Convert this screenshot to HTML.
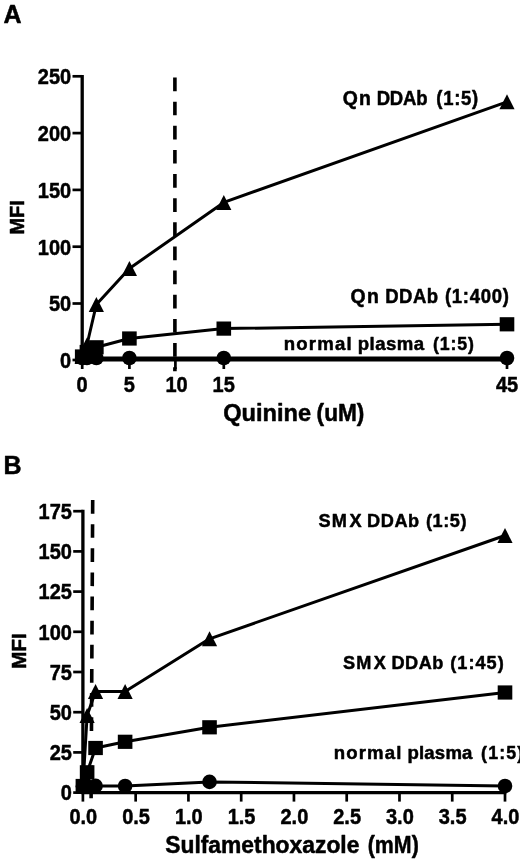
<!DOCTYPE html>
<html lang="en">
<head>
<meta charset="utf-8">
<title>Figure</title>
<style>
html,body{margin:0;padding:0;background:#fff;}
body{width:520px;height:867px;overflow:hidden;}
svg{display:block;}
svg text{font-family:"Liberation Sans", Arial, Helvetica, sans-serif;font-weight:700;fill:#000;stroke:#000;stroke-width:0.5;stroke-linejoin:round;}
.ax{stroke:#000;stroke-width:3.3;fill:none;stroke-linecap:butt;}
.tk{stroke:#000;stroke-width:2.7;fill:none;stroke-linecap:butt;}
.ln{stroke:#000;stroke-width:3.0;fill:none;stroke-linejoin:round;}
.dash{stroke:#000;stroke-width:3.6;fill:none;stroke-dasharray:13.7 10.44;}
</style>
</head>
<body>
<svg width="520" height="867" viewBox="0 0 520 867">
<rect x="0" y="0" width="520" height="867" fill="#fff" stroke="none"/>
<g id="panelA">
<text x="3.4" y="23.4" font-size="25" text-anchor="start">A</text>
<path class="ax" d="M82.2,74.95 V359.8 M80.55,359.8 H508.35"/>
<path class="tk" d="M72.5,360.00 H82.2"/>
<text transform="translate(71.20,367.80) scale(0.926,1)" font-size="21.6" text-anchor="end">0</text>
<path class="tk" d="M72.5,303.50 H82.2"/>
<text transform="translate(71.20,311.30) scale(0.926,1)" font-size="21.6" text-anchor="end">50</text>
<path class="tk" d="M72.5,246.70 H82.2"/>
<text transform="translate(71.20,254.50) scale(0.926,1)" font-size="21.6" text-anchor="end">100</text>
<path class="tk" d="M72.5,189.90 H82.2"/>
<text transform="translate(71.20,197.70) scale(0.926,1)" font-size="21.6" text-anchor="end">150</text>
<path class="tk" d="M72.5,133.10 H82.2"/>
<text transform="translate(71.20,140.90) scale(0.926,1)" font-size="21.6" text-anchor="end">200</text>
<path class="tk" d="M72.5,76.30 H82.2"/>
<text transform="translate(71.20,84.10) scale(0.926,1)" font-size="21.6" text-anchor="end">250</text>
<path class="tk" d="M82.20,359.8 V369.0"/>
<text transform="translate(82.10,392.40) scale(0.926,1)" font-size="21.6" text-anchor="middle">0</text>
<path class="tk" d="M129.40,359.8 V369.0"/>
<text transform="translate(129.30,392.40) scale(0.926,1)" font-size="21.6" text-anchor="middle">5</text>
<path class="tk" d="M175.40,359.8 V369.0"/>
<text transform="translate(176.50,392.40) scale(0.926,1)" font-size="21.6" text-anchor="middle">10</text>
<path class="tk" d="M223.80,359.8 V369.0"/>
<text transform="translate(223.70,392.40) scale(0.926,1)" font-size="21.6" text-anchor="middle">15</text>
<path class="tk" d="M507.00,359.8 V369.0"/>
<text transform="translate(507.00,392.40) scale(0.926,1)" font-size="21.6" text-anchor="middle">45</text>
<text transform="translate(24.4,217.4) rotate(-90)" font-size="20" text-anchor="middle">MFI</text>
<text transform="translate(223.22,420.7)" font-size="23.6">Quinine</text>
<text transform="translate(316.62,420.7) scale(0.9602,1)" font-size="23.6">(uM)</text>
<path class="dash" d="M174.9,77.5 V371.3"/>
<polyline class="ln" points="82.20,358.00 86.92,358.00 96.36,358.00 129.40,358.00 223.80,358.00 507.00,358.00"/>
<circle cx="82.20" cy="358.00" r="7.3"/>
<circle cx="86.92" cy="358.00" r="7.3"/>
<circle cx="96.36" cy="358.00" r="7.3"/>
<circle cx="129.40" cy="358.00" r="7.3"/>
<circle cx="223.80" cy="358.00" r="7.3"/>
<circle cx="507.00" cy="358.00" r="7.3"/>
<polyline class="ln" points="82.20,356.50 86.92,352.00 96.36,347.30 129.40,338.50 223.80,328.60 507.00,324.30"/>
<rect x="74.90" y="349.40" width="14.6" height="14.2"/>
<rect x="79.62" y="344.90" width="14.6" height="14.2"/>
<rect x="89.06" y="340.20" width="14.6" height="14.2"/>
<rect x="122.10" y="331.40" width="14.6" height="14.2"/>
<rect x="216.50" y="321.50" width="14.6" height="14.2"/>
<rect x="499.70" y="317.20" width="14.6" height="14.2"/>
<polyline class="ln" points="82.20,356.40 86.92,345.00 96.36,304.50 129.40,268.50 223.80,202.40 507.00,101.80"/>
<polygon points="82.20,348.90 89.80,363.90 74.60,363.90"/>
<polygon points="86.92,337.50 94.52,352.50 79.32,352.50"/>
<polygon points="96.36,297.00 103.96,312.00 88.76,312.00"/>
<polygon points="129.40,261.00 137.00,276.00 121.80,276.00"/>
<polygon points="223.80,194.90 231.40,209.90 216.20,209.90"/>
<polygon points="507.00,94.30 514.60,109.30 499.40,109.30"/>
<text transform="translate(342.66,104.9)" font-size="19.4" letter-spacing="1.200">Qn</text>
<text transform="translate(376.63,104.9) scale(0.9550,1)" font-size="19.4" letter-spacing="-0.208">DDAb</text>
<text transform="translate(436.32,104.9) scale(0.9550,1)" font-size="19.4" letter-spacing="0.737">(1:5)</text>
<text transform="translate(350.61,303.4)" font-size="19.4" letter-spacing="1.200">Qn</text>
<text transform="translate(385.23,303.4) scale(0.9550,1)" font-size="19.4" letter-spacing="0.525">DDAb</text>
<text transform="translate(444.92,303.4) scale(0.9550,1)" font-size="19.4" letter-spacing="0.739">(1:400)</text>
<text transform="translate(283.64,350.1)" font-size="18.6" letter-spacing="1.200">normal</text>
<text transform="translate(357.69,350.1)" font-size="18.6" letter-spacing="0.476">plasma</text>
<text transform="translate(432.88,350.1) scale(0.9550,1)" font-size="18.6" letter-spacing="0.929">(1:5)</text>
</g>
<g id="panelB">
<text x="3.6" y="473.7" font-size="25" text-anchor="start">B</text>
<path class="ax" d="M82.9,509.84999999999997 V792.6 M81.25,792.6 H506.35"/>
<path class="tk" d="M73.2,792.60 H82.9"/>
<text transform="translate(71.90,800.40) scale(0.926,1)" font-size="21.6" text-anchor="end">0</text>
<path class="tk" d="M73.2,752.40 H82.9"/>
<text transform="translate(71.90,760.20) scale(0.926,1)" font-size="21.6" text-anchor="end">25</text>
<path class="tk" d="M73.2,712.20 H82.9"/>
<text transform="translate(71.90,720.00) scale(0.926,1)" font-size="21.6" text-anchor="end">50</text>
<path class="tk" d="M73.2,672.00 H82.9"/>
<text transform="translate(71.90,679.80) scale(0.926,1)" font-size="21.6" text-anchor="end">75</text>
<path class="tk" d="M73.2,631.80 H82.9"/>
<text transform="translate(71.90,639.60) scale(0.926,1)" font-size="21.6" text-anchor="end">100</text>
<path class="tk" d="M73.2,591.60 H82.9"/>
<text transform="translate(71.90,599.40) scale(0.926,1)" font-size="21.6" text-anchor="end">125</text>
<path class="tk" d="M73.2,551.40 H82.9"/>
<text transform="translate(71.90,559.20) scale(0.926,1)" font-size="21.6" text-anchor="end">150</text>
<path class="tk" d="M73.2,511.20 H82.9"/>
<text transform="translate(71.90,519.00) scale(0.926,1)" font-size="21.6" text-anchor="end">175</text>
<path class="tk" d="M82.90,792.6 V801.6"/>
<text transform="translate(83.30,823.60) scale(0.926,1)" font-size="21.6" text-anchor="middle">0.0</text>
<path class="tk" d="M135.66,792.6 V801.6"/>
<text transform="translate(136.06,823.60) scale(0.926,1)" font-size="21.6" text-anchor="middle">0.5</text>
<path class="tk" d="M188.43,792.6 V801.6"/>
<text transform="translate(188.83,823.60) scale(0.926,1)" font-size="21.6" text-anchor="middle">1.0</text>
<path class="tk" d="M241.19,792.6 V801.6"/>
<text transform="translate(241.59,823.60) scale(0.926,1)" font-size="21.6" text-anchor="middle">1.5</text>
<path class="tk" d="M293.95,792.6 V801.6"/>
<text transform="translate(294.35,823.60) scale(0.926,1)" font-size="21.6" text-anchor="middle">2.0</text>
<path class="tk" d="M346.71,792.6 V801.6"/>
<text transform="translate(347.11,823.60) scale(0.926,1)" font-size="21.6" text-anchor="middle">2.5</text>
<path class="tk" d="M399.48,792.6 V801.6"/>
<text transform="translate(399.88,823.60) scale(0.926,1)" font-size="21.6" text-anchor="middle">3.0</text>
<path class="tk" d="M452.24,792.6 V801.6"/>
<text transform="translate(452.64,823.60) scale(0.926,1)" font-size="21.6" text-anchor="middle">3.5</text>
<path class="tk" d="M505.00,792.6 V801.6"/>
<text transform="translate(505.40,823.60) scale(0.926,1)" font-size="21.6" text-anchor="middle">4.0</text>
<text transform="translate(25.9,651.0) rotate(-90)" font-size="20.6" text-anchor="middle">MFI</text>
<text transform="translate(165.20,853.2) scale(0.9682,1)" font-size="23.6">Sulfamethoxazole</text>
<text transform="translate(367.73,853.2) scale(0.9057,1)" font-size="23.6">(mM)</text>
<path class="dash" d="M92.7,500 L91.1,798.3"/>
<polyline class="ln" points="82.90,786.20 87.12,786.20 95.56,785.90 125.11,786.00 209.53,781.90 505.00,786.00"/>
<circle cx="82.90" cy="786.20" r="7.3"/>
<circle cx="87.12" cy="786.20" r="7.3"/>
<circle cx="95.56" cy="785.90" r="7.3"/>
<circle cx="125.11" cy="786.00" r="7.3"/>
<circle cx="209.53" cy="781.90" r="7.3"/>
<circle cx="505.00" cy="786.00" r="7.3"/>
<polyline class="ln" points="82.90,786.00 87.12,772.30 95.56,748.00 125.11,741.80 209.53,727.30 505.00,692.50"/>
<rect x="75.60" y="778.90" width="14.6" height="14.2"/>
<rect x="79.82" y="765.20" width="14.6" height="14.2"/>
<rect x="88.26" y="740.90" width="14.6" height="14.2"/>
<rect x="117.81" y="734.70" width="14.6" height="14.2"/>
<rect x="202.23" y="720.20" width="14.6" height="14.2"/>
<rect x="497.70" y="685.40" width="14.6" height="14.2"/>
<polyline class="ln" points="82.90,786.20 87.12,715.50 95.56,691.50 125.11,691.50 209.53,638.80 505.00,535.50"/>
<polygon points="82.90,778.70 90.50,793.70 75.30,793.70"/>
<polygon points="87.12,708.00 94.72,723.00 79.52,723.00"/>
<polygon points="95.56,684.00 103.16,699.00 87.96,699.00"/>
<polygon points="125.11,684.00 132.71,699.00 117.51,699.00"/>
<polygon points="209.53,631.30 217.13,646.30 201.93,646.30"/>
<polygon points="505.00,528.00 512.60,543.00 497.40,543.00"/>
<text transform="translate(318.57,526.8) scale(0.9550,1)" font-size="19.0" letter-spacing="1.257">SM</text>
<text transform="translate(349.58,526.8) scale(0.9550,1)" font-size="19.0">X</text>
<text transform="translate(366.94,526.8) scale(0.9550,1)" font-size="19.0" letter-spacing="0.664">DDAb</text>
<text transform="translate(425.93,526.8) scale(0.9550,1)" font-size="19.0" letter-spacing="0.611">(1:5)</text>
<text transform="translate(343.07,668.6) scale(0.9550,1)" font-size="19.0" letter-spacing="1.257">SM</text>
<text transform="translate(373.63,668.6) scale(0.9550,1)" font-size="19.0">X</text>
<text transform="translate(391.54,668.6) scale(0.9550,1)" font-size="19.0" letter-spacing="0.490">DDAb</text>
<text transform="translate(450.23,668.6) scale(0.9550,1)" font-size="19.0" letter-spacing="1.073">(1:45)</text>
<text transform="translate(333.79,758.9)" font-size="18.6" letter-spacing="1.117">normal</text>
<text transform="translate(407.39,758.9)" font-size="18.6" letter-spacing="0.196">plasma</text>
<text transform="translate(481.08,758.9) scale(0.9550,1)" font-size="18.6" letter-spacing="1.190">(1:5)</text>
</g>
</svg>
</body>
</html>
